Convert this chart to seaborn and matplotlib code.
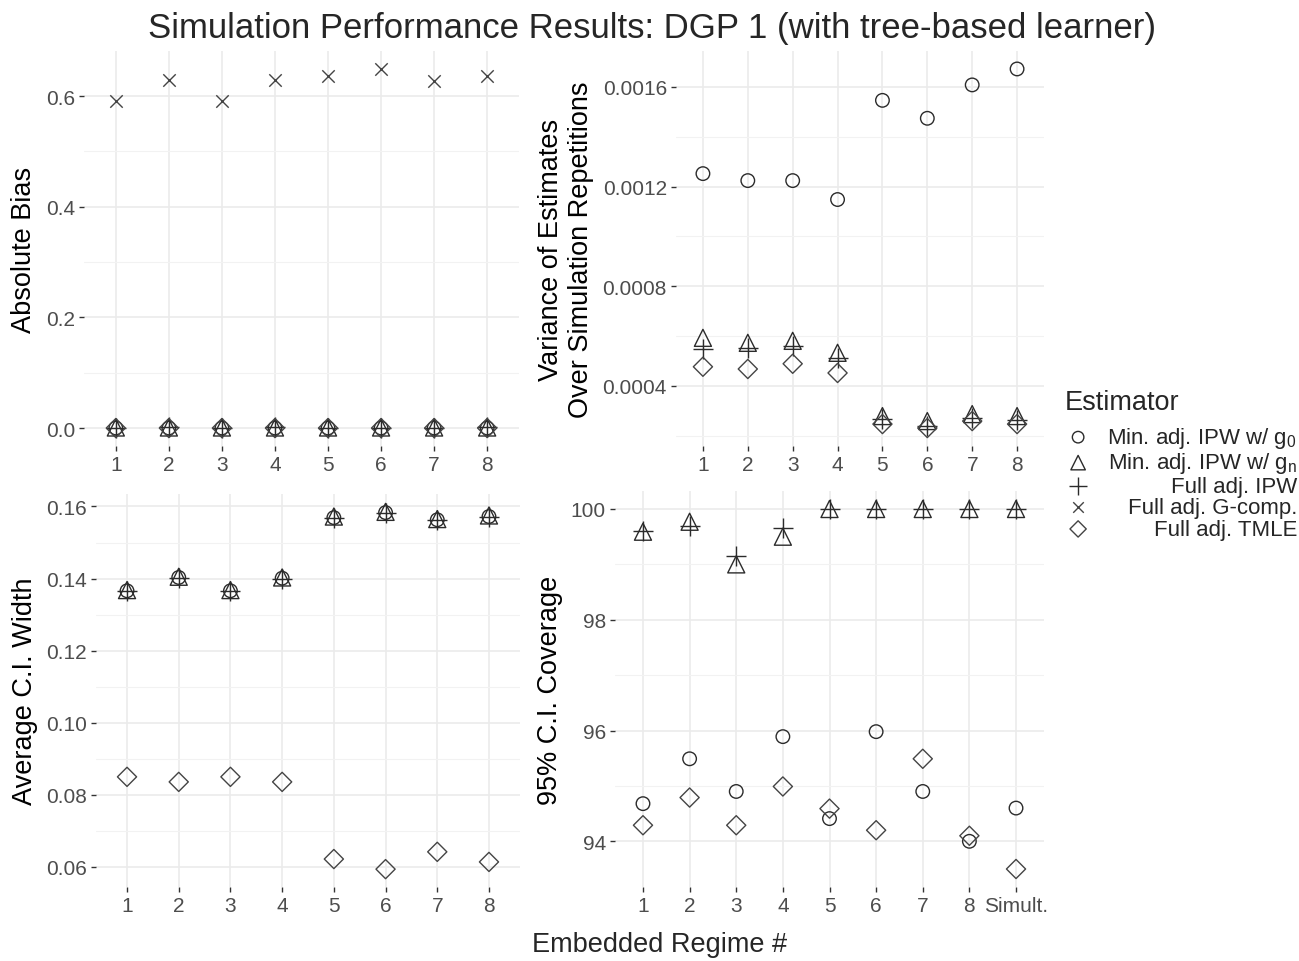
import pandas as pd
import matplotlib
matplotlib.use('Agg')
import matplotlib.pyplot as plt
from matplotlib.ticker import FixedLocator, MultipleLocator
import seaborn as sns

# Regimi e valori
regimes = ['1', '2', '3', '4', '5', '6', '7', '8']
regimes_cov = regimes + ['Simult.']

estimators = ['Min. adj. IPW w/ g0', 'Min. adj. IPW w/ gn', 'Full adj. IPW',
              'Full adj. G-comp.', 'Full adj. TMLE']

# Absolute bias
bias_g0 = [0.000, 0.000, 0.000, 0.000, 0.000, 0.000, 0.000, 0.000]
bias_gn = [0.001, 0.001, 0.001, 0.001, 0.001, 0.001, 0.001, 0.001]
bias_ipw = [0.000, 0.001, 0.000, 0.001, 0.000, 0.000, 0.000, 0.001]
bias_gcomp = [0.591, 0.629, 0.591, 0.629, 0.636, 0.649, 0.627, 0.636]
bias_tmle = [0.000, 0.000, 0.000, 0.000, 0.000, 0.000, 0.000, 0.000]

# Varianza delle stime
var_g0 = [0.001252, 0.001224, 0.001224, 0.001148, 0.001546, 0.001474, 0.001608, 0.001672]
var_gn = [0.000593, 0.000573, 0.000581, 0.000533, 0.000279, 0.000259, 0.000287, 0.000279]
var_ipw = [0.000549, 0.000553, 0.000561, 0.000513, 0.000267, 0.000239, 0.000271, 0.000263]
var_tmle = [0.000477, 0.000468, 0.000489, 0.000452, 0.000247, 0.000231, 0.000259, 0.000247]

# Ampiezza media IC
width_g0 = [0.1366, 0.1403, 0.1366, 0.1401, 0.1569, 0.1583, 0.1563, 0.1572]
width_gn = [0.1368, 0.1405, 0.1368, 0.1403, 0.1572, 0.1585, 0.1565, 0.1575]
width_ipw = [0.1365, 0.1402, 0.1365, 0.1400, 0.1568, 0.1582, 0.1562, 0.1571]
width_tmle = [0.0850, 0.0836, 0.0850, 0.0836, 0.0622, 0.0594, 0.0642, 0.0614]

# Copertura IC 95%
cov_g0 = [94.68, 95.49, 94.90, 95.89, 94.41, 95.98, 94.90, 94.00, 94.60]
cov_gn = [99.59, 99.77, 99.00, 99.50, 100.0, 100.0, 100.0, 100.0, 100.0]
cov_ipw = [99.60, 99.70, 99.15, 99.66, 100.0, 100.0, 100.0, 100.0, 100.0]
cov_tmle = [94.29, 94.79, 94.29, 94.99, 94.59, 94.20, 95.49, 94.10, 93.50]


def long_df(cats, series):
    rows = []
    for name, vals in series.items():
        for c, v in zip(cats, vals):
            rows.append({'regime': c, 'estimator': name, 'value': v})
    return pd.DataFrame(rows)


df_bias = long_df(regimes, dict(zip(estimators, [bias_g0, bias_gn, bias_ipw, bias_gcomp, bias_tmle])))
df_var = long_df(regimes, {estimators[0]: var_g0, estimators[1]: var_gn,
                           estimators[2]: var_ipw, estimators[4]: var_tmle})
df_width = long_df(regimes, {estimators[0]: width_g0, estimators[1]: width_gn,
                             estimators[2]: width_ipw, estimators[4]: width_tmle})
df_cov = long_df(regimes_cov, {estimators[0]: cov_g0, estimators[1]: cov_gn,
                               estimators[2]: cov_ipw, estimators[4]: cov_tmle})

sns.set_theme(style='white')
plt.rcParams['font.family'] = ['Liberation Sans', 'DejaVu Sans']
plt.rcParams['mathtext.fontset'] = 'custom'
plt.rcParams['mathtext.rm'] = 'Liberation Sans'

ink = '#2b2b2b'
marker_style = {
    estimators[0]: dict(marker='o', s=95, facecolor='none', edgecolor=ink, linewidth=1.0),
    estimators[1]: dict(marker='^', s=150, facecolor='none', edgecolor=ink, linewidth=1.0),
    estimators[2]: dict(marker='+', s=220, color=ink, linewidth=1.0),
    estimators[3]: dict(marker='x', s=80, color='#444444', linewidth=1.0),
    estimators[4]: dict(marker='D', s=95, facecolor='none', edgecolor='#444444', linewidth=1.0),
}

fig = plt.figure(figsize=(12.99, 9.62), dpi=100)
W, H = 1299, 962


def panel(l, t, r, b):
    return fig.add_axes([l / W, 1 - b / H, (r - l) / W, (b - t) / H])


ax_tl = panel(84, 52, 519, 447)
ax_tr = panel(676, 52, 1044, 447)
ax_bl = panel(96, 495, 520, 888)
ax_br = panel(615, 492, 1044, 888)


def draw(ax, df, cats, ylabel, ticks, labels, minor):
    for est in estimators:
        sub = df[df['estimator'] == est]
        if sub.empty:
            continue
        sns.scatterplot(data=sub, x='regime', y='value', ax=ax, label=est,
                        legend=False, zorder=3, **marker_style[est])
    ax.set_xlim(-0.6, len(cats) - 1 + 0.6)
    vals = df['value']
    pad = (vals.max() - vals.min()) * 0.05
    ax.set_ylim(vals.min() - pad, vals.max() + pad)
    ax.yaxis.set_major_locator(FixedLocator(ticks))
    ax.set_yticklabels(labels)
    ax.yaxis.set_minor_locator(MultipleLocator(minor))
    ax.grid(True, which='major', color='#EBEBEB', linewidth=1.2)
    ax.grid(True, which='minor', axis='y', color='#F2F2F2', linewidth=0.8)
    ax.set_axisbelow(True)
    for s in ax.spines.values():
        s.set_visible(False)
    ax.tick_params(axis='both', which='major', length=3.5, width=1.0, color='#333333',
                   labelsize=15, labelcolor='#4D4D4D', pad=3, left=True, bottom=True)
    ax.tick_params(axis='y', which='minor', length=0)
    ax.set_xlabel('')
    ax.set_ylabel(ylabel, fontsize=19.5, color='black', labelpad=6)


draw(ax_tl, df_bias, regimes, 'Absolute Bias', [0.0, 0.2, 0.4, 0.6],
     ['0.0', '0.2', '0.4', '0.6'], 0.1)
draw(ax_tr, df_var, regimes, 'Variance of Estimates\nOver Simulation Repetitions',
     [0.0004, 0.0008, 0.0012, 0.0016], ['0.0004', '0.0008', '0.0012', '0.0016'], 0.0002)
draw(ax_bl, df_width, regimes, 'Average C.I. Width', [0.06, 0.08, 0.10, 0.12, 0.14, 0.16],
     ['0.06', '0.08', '0.10', '0.12', '0.14', '0.16'], 0.01)
draw(ax_br, df_cov, regimes_cov, '95% C.I. Coverage', [94, 96, 98, 100],
     ['94', '96', '98', '100'], 1)

fig.suptitle('Simulation Performance Results: DGP 1 (with tree-based learner)',
             x=0.502, y=0.988, fontsize=25, va='top')
fig.text(0.508, 0.0177, 'Embedded Regime #', fontsize=19.5, ha='center', va='center')

# Legenda comune (titolo a parte, etichette allineate a destra)
fig.text(1065 / W, 1 - 403 / H, 'Estimator', fontsize=19.5, ha='left', va='center')
handles, _ = ax_tl.get_legend_handles_labels()
nice_labels = [r'Min. adj. IPW w/ $\mathregular{g_0}$', r'Min. adj. IPW w/ $\mathregular{g_n}$',
               'Full adj. IPW', 'Full adj. G-comp.', 'Full adj. TMLE']
leg = fig.legend(handles, nice_labels, loc='upper left', bbox_to_anchor=(1067 / W, 1 - 426 / H),
                 frameon=False, fontsize=16, handletextpad=0.5, labelspacing=0.02,
                 handlelength=1.0, borderaxespad=0, borderpad=0, markerscale=0.85)
fig.canvas.draw()
texts = leg.get_texts()
x0 = min(t.get_window_extent().x0 for t in texts)
for t in texts:
    w = t.get_window_extent().width
    t.set_position((1297 - x0 - w, 0))

fig.savefig('out.png', dpi=100, facecolor='white')
